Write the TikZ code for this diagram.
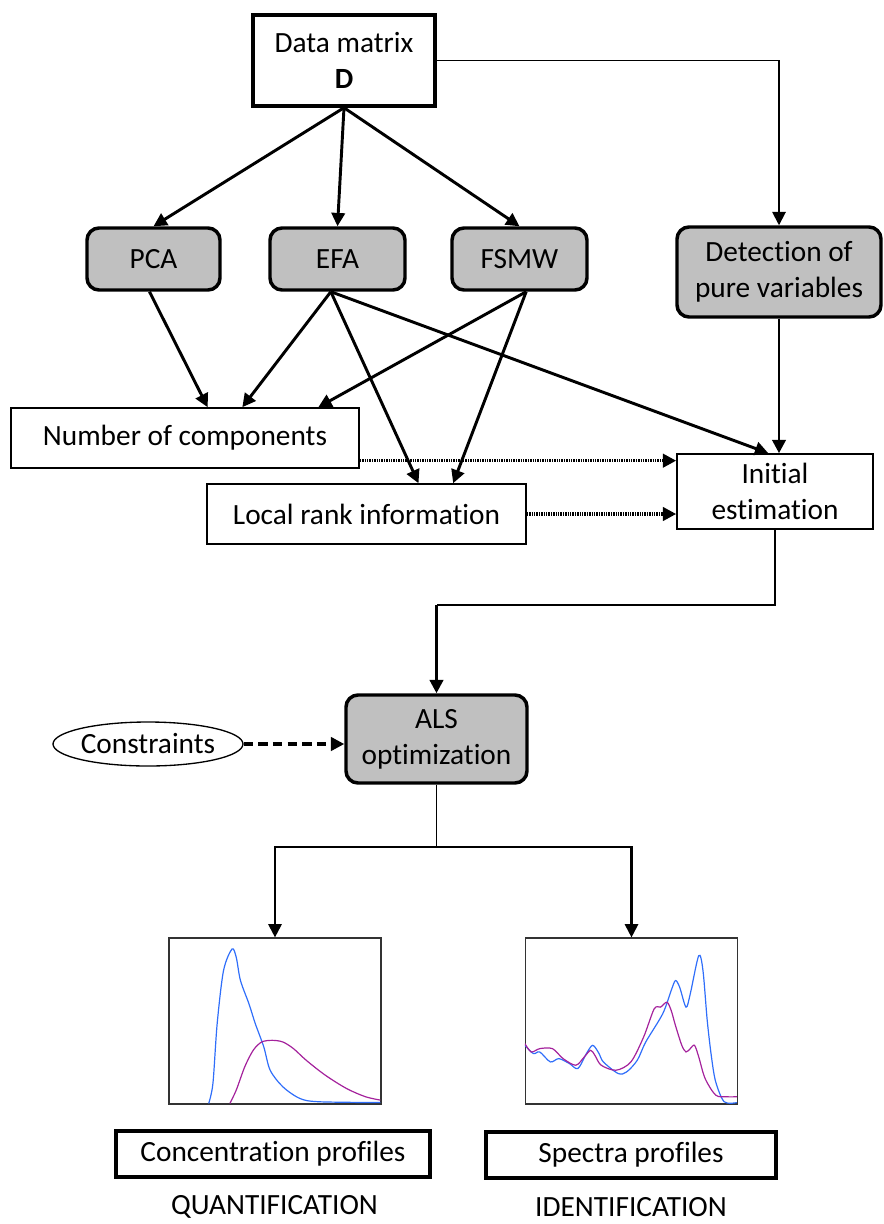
\documentclass[tikz,border=0pt]{standalone}
\usepackage{fontspec}
\setmainfont{Carlito}[Ligatures=NoCommon]
\usetikzlibrary{arrows.meta, shapes.geometric}
\definecolor{mGray}{HTML}{C0C0C0}
\definecolor{mBlue}{HTML}{2F6EFA}
\definecolor{mPurple}{HTML}{A4229C}

\begin{document}
\begin{tikzpicture}[x=0.75pt, y=-0.75pt,
    every node/.style={font=\fontsize{22}{27}\selectfont, align=center, inner sep=0pt},
    plain/.style={draw, line width=1.2pt, fill=white},
    bold/.style={draw, line width=2.6pt, fill=white},
    proc/.style={draw, line width=2.6pt, fill=mGray, rounded corners=9pt},
    frame/.style={draw=black!80, line width=0.9pt, minimum width=159pt, minimum height=124.5pt},
    arr/.style={-{Triangle[length=10pt,width=10pt]}, line width=2.2pt},
    link/.style={line width=1.4pt},
    dotlink/.style={arr, line width=2.4pt, dash pattern=on 1pt off 0.8pt},
    dashlink/.style={arr, line width=2.4pt, dash pattern=on 7pt off 4pt},
    curve/.style={line width=0.9pt},
  ]
    \useasboundingbox (0,0) rectangle (883,1224);

    % top
    \node[bold, minimum width=136.5pt, minimum height=68.25pt] (data) at (344,60.5) {Data matrix\\ \textbf{D}};

    % methods
    \node[proc, minimum width=99.75pt, minimum height=46.5pt] (pca) at (153.5,259) {PCA};
    \node[proc, minimum width=101.25pt, minimum height=46.5pt] (efa) at (337.5,259) {EFA};
    \node[proc, minimum width=101.25pt, minimum height=46.5pt] (fsmw) at (519.5,259) {FSMW};
    \node[proc, minimum width=153pt, minimum height=67.5pt] (detect) at (779,272) {Detection of\\ pure variables};

    % results
    \node[plain, minimum width=261pt, minimum height=45pt] (noc) at (185,438) {Number of components};
    \node[plain, minimum width=239.25pt, minimum height=45pt] (lri) at (366.5,514) {Local rank information};
    \node[plain, minimum width=147pt, minimum height=56.25pt] (init) at (775,491.5) {Initial\\ estimation};

    % optimization
    \node[proc, minimum width=135.75pt, minimum height=66pt] (als) at (436.5,739) {ALS\\ optimization};
    \node[draw, ellipse, line width=1pt, minimum width=138pt, minimum height=33pt] (cons) at (148,744) {Constraints};

    % profiles
    \node[frame] (qplot) at (275,1021) {};
    \node[frame] (splot) at (631.5,1021) {};
    \node[bold, minimum width=235.5pt, minimum height=34.5pt] (conc) at (273,1154) {Concentration profiles};
    \node[bold, minimum width=217.5pt, minimum height=34.5pt] (spec) at (631,1155) {Spectra profiles};
    \node (quant) at (274.5,1207) {QUANTIFICATION};
    \node (ident) at (631,1207) {IDENTIFICATION};

    \coordinate (bend) at (0,605);
    \coordinate (split) at (0,847);

    % edges
    \draw[arr] (data.south) -- (pca.north);
    \draw[arr] (data.south) -- (efa.north);
    \draw[arr] (data.south) -- (fsmw.north);
    \draw[arr, line width=1.4pt] (data.east) -| (detect.north);
    \draw[arr] ([xshift=-3pt]pca.south) -- ([xshift=17pt]noc.north);
    \draw[arr] ([xshift=-5pt]efa.south) -- ([xshift=43pt]noc.north);
    \draw[arr] ([xshift=5pt]fsmw.south) -- ([xshift=100pt]noc.north);
    \draw[arr] ([xshift=-5pt]efa.south) -- ([xshift=39pt]lri.north);
    \draw[arr] ([xshift=5pt]fsmw.south) -- ([xshift=65pt]lri.north);
    \draw[arr] ([xshift=-5pt]efa.south) -- ([xshift=-5pt]init.north);
    \draw[arr] (detect.south) -- (detect.south |- init.north);
    \draw[dotlink] ([yshift=-17pt]noc.east) -- ([yshift=-17pt]noc.east -| init.west);
    \draw[dotlink] (lri.east) -- (lri.east -| init.west);
    \draw[link] (init.south) |- (bend -| als.north);
    \draw[arr] (bend -| als.north) -- (als.north);
    \draw[dashlink] (cons.east) -- (cons.east -| als.west);
    \draw[link] (als.south) -- (als.south |- split);
    \draw[arr, line width=1.6pt] (als.south |- split) -| (qplot.north);
    \draw[arr, line width=1.6pt] (als.south |- split) -| (splot.north);

    % concentration curves
    \begin{scope}[shift={(qplot.north west)}, x=159pt, y=-124.5pt]
      \clip (0,0) rectangle (1,1);
      \draw[mBlue, curve] plot[smooth, tension=0.5] coordinates {(0.19,1.0) (0.21,0.88) (0.23,0.52) (0.26,0.20) (0.30,0.07) (0.32,0.12) (0.34,0.26) (0.38,0.40) (0.41,0.52) (0.45,0.66) (0.48,0.80) (0.54,0.90) (0.62,0.97) (0.71,0.99) (1,0.995)};
      \draw[mPurple, curve] plot[smooth, tension=0.5] coordinates {(0.29,1.0) (0.32,0.92) (0.36,0.78) (0.40,0.68) (0.44,0.63) (0.49,0.62) (0.54,0.63) (0.59,0.67) (0.65,0.74) (0.74,0.83) (0.84,0.91) (0.93,0.96) (1,0.98)};
    \end{scope}

    % spectra curves
    \begin{scope}[shift={(splot.north west)}, x=159pt, y=-124.5pt]
      \clip (0,0) rectangle (1,1);
      \draw[mBlue, curve] plot[smooth, tension=0.5] coordinates {(0,0.65) (0.04,0.70) (0.07,0.69) (0.12,0.75) (0.16,0.73) (0.21,0.76) (0.25,0.79) (0.29,0.70) (0.32,0.65) (0.35,0.70) (0.37,0.75) (0.44,0.82) (0.48,0.81) (0.53,0.74) (0.57,0.63) (0.65,0.46) (0.69,0.32) (0.71,0.26) (0.73,0.30) (0.76,0.42) (0.78,0.34) (0.82,0.11) (0.84,0.20) (0.86,0.50) (0.88,0.72) (0.90,0.87) (0.94,0.99) (1,0.995)};
      \draw[mPurple, curve] plot[smooth, tension=0.5] coordinates {(0,0.64) (0.03,0.69) (0.07,0.67) (0.13,0.67) (0.18,0.73) (0.24,0.77) (0.28,0.72) (0.31,0.68) (0.33,0.71) (0.36,0.77) (0.43,0.80) (0.50,0.75) (0.56,0.60) (0.61,0.43) (0.64,0.42) (0.67,0.39) (0.69,0.44) (0.71,0.53) (0.74,0.65) (0.76,0.69) (0.78,0.67) (0.80,0.65) (0.82,0.72) (0.85,0.85) (0.90,0.95) (0.95,0.96) (1,0.96)};
    \end{scope}
  \end{tikzpicture}
\end{document}
